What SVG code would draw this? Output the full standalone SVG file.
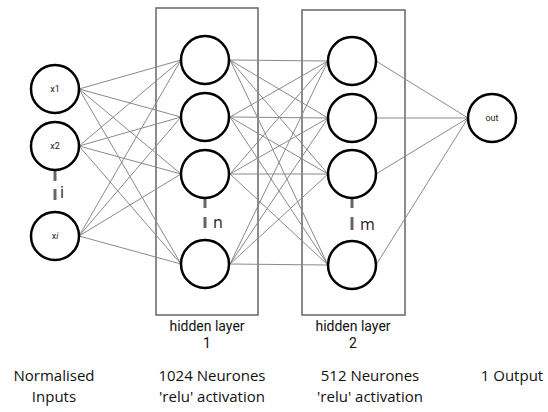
<svg xmlns="http://www.w3.org/2000/svg" width="548" height="412" viewBox="0 0 548 412">
<style>
.node{fill:#fff;stroke:#000;stroke-width:2.5}
.box{fill:none;stroke:#666;stroke-width:1.5}
.edge{stroke:#8a8a8a;stroke-width:1;fill:none}
.dash{stroke:#666;stroke-width:3}
.small{font-family:Roboto,"Liberation Sans",sans-serif;font-size:9px;fill:#222;text-anchor:middle}
.lab{font-family:Roboto,"Liberation Sans",sans-serif;font-size:14px;fill:#111;text-anchor:middle}
.letter{font-family:"Open Sans","Liberation Sans",sans-serif;font-size:16px;fill:#222}
.cap{font-family:"Open Sans","Liberation Sans",sans-serif;font-size:15px;fill:#111;text-anchor:middle}
</style>
<rect width="548" height="412" fill="#fff"/>
<g id="layer-boxes">
<rect class="box" x="156" y="8" width="102" height="307"/>
<rect class="box" x="302" y="10" width="103" height="305"/>
</g>
<g id="connectors">
<path class="edge" d="M79 89L181 60M79 89L181 117M79 89L181 174M79 89L181 264
M79 146L181 60M79 146L181 117M79 146L181 174M79 146L181 264
M79 236L181 60M79 236L181 117M79 236L181 174M79 236L181 264"/>
<path class="edge" d="M230 60L328 61M230 60L328 118M230 60L328 174M230 60L328 265
M230 117L328 61M230 117L328 118M230 117L328 174M230 117L328 265
M230 174L328 61M230 174L328 118M230 174L328 174M230 174L328 265
M230 264L328 61M230 264L328 118M230 264L328 174M230 264L328 265"/>
<path class="edge" d="M376 61L468 118M376 118L468 118M376 174L468 118M376 265L468 118"/>
</g>
<g id="dots">
<line class="dash" x1="55" y1="171" x2="55" y2="181"/>
<line class="dash" x1="55" y1="189" x2="55" y2="200"/>
<text class="letter" x="60" y="198">i</text>
<line class="dash" x1="205" y1="198" x2="205" y2="208"/>
<line class="dash" x1="205" y1="217" x2="205" y2="228"/>
<text class="letter" x="213" y="228">n</text>
<line class="dash" x1="352" y1="199" x2="352" y2="208"/>
<line class="dash" x1="352" y1="217" x2="352" y2="230"/>
<text class="letter" x="360" y="230">m</text>
</g>
<g id="in1"><circle class="node" cx="55" cy="89" r="24"/><text class="small" x="55" y="92">x1</text></g>
<g id="in2"><circle class="node" cx="55" cy="146" r="24"/><text class="small" x="55" y="149">x2</text></g>
<g id="ini"><circle class="node" cx="55" cy="236" r="24"/><text class="small" x="55" y="239">x<tspan font-style="italic">i</tspan></text></g>
<g id="h1a"><circle class="node" cx="205" cy="60" r="24"/></g>
<g id="h1b"><circle class="node" cx="205" cy="117" r="24"/></g>
<g id="h1c"><circle class="node" cx="205" cy="174" r="24"/></g>
<g id="h1d"><circle class="node" cx="205" cy="264" r="24"/></g>
<g id="h2a"><circle class="node" cx="352" cy="61" r="24"/></g>
<g id="h2b"><circle class="node" cx="352" cy="118" r="24"/></g>
<g id="h2c"><circle class="node" cx="352" cy="174" r="24"/></g>
<g id="h2d"><circle class="node" cx="352" cy="265" r="24"/></g>
<g id="out"><circle class="node" cx="492" cy="118" r="24"/><text class="small" x="492" y="121">out</text></g>
<g id="labels">
<text class="lab" x="207" y="331">hidden layer</text>
<text class="lab" x="207" y="348">1</text>
<text class="lab" x="353" y="331">hidden layer</text>
<text class="lab" x="353" y="348">2</text>
<text class="cap" x="54" y="381">Normalised</text>
<text class="cap" x="54" y="402">Inputs</text>
<text class="cap" x="212" y="381">1024 Neurones</text>
<text class="cap" x="212" y="402">'relu' activation</text>
<text class="cap" x="370" y="381">512 Neurones</text>
<text class="cap" x="370" y="402">'relu' activation</text>
<text class="cap" x="512" y="381">1 Output</text>
</g>
</svg>
